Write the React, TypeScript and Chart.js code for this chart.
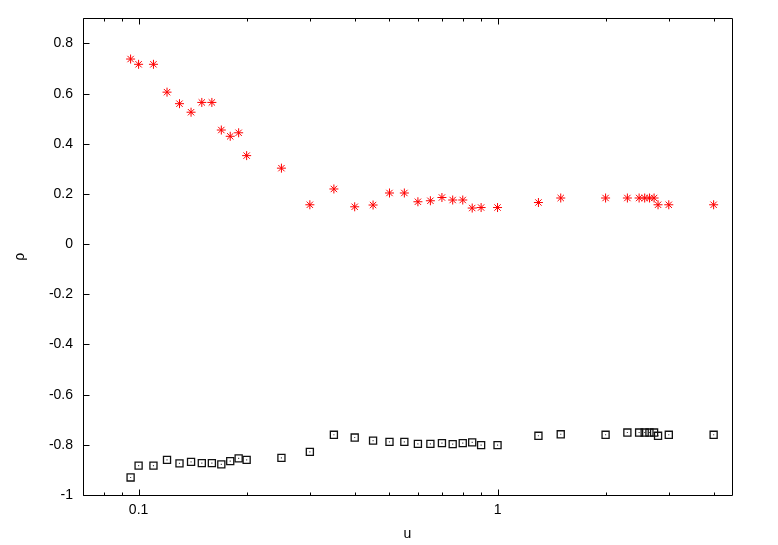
import React, { useEffect, useRef } from "react";
import { Chart, registerables } from "chart.js";

Chart.register(...registerables);

// ---- data ----
const uValues = [
  0.095, 0.1, 0.11, 0.12, 0.13, 0.14, 0.15, 0.16, 0.17, 0.18, 0.19, 0.2,
  0.25, 0.3, 0.35, 0.4, 0.45, 0.5, 0.55, 0.6, 0.65, 0.7, 0.75, 0.8, 0.85, 0.9, 1.0,
  1.3, 1.5, 2.0, 2.3,
  2.48, 2.57, 2.65, 2.73,
  2.8, 3.0, 4.0,
];

const rhoRed = [
  0.738, 0.717, 0.717, 0.606, 0.56, 0.526, 0.565, 0.565, 0.455, 0.43, 0.444, 0.353,
  0.303, 0.157, 0.22, 0.149, 0.156, 0.204, 0.204, 0.169, 0.173, 0.186, 0.176, 0.176, 0.144, 0.146, 0.146,
  0.166, 0.184, 0.184, 0.184,
  0.184, 0.184, 0.184, 0.184,
  0.157, 0.157, 0.157,
];

const rhoBlack = [
  -0.93, -0.883, -0.883, -0.86, -0.874, -0.868, -0.873, -0.873, -0.878, -0.865, -0.854, -0.86,
  -0.852, -0.828, -0.76, -0.771, -0.783, -0.788, -0.788, -0.796, -0.796, -0.793, -0.797, -0.793, -0.79, -0.801, -0.801,
  -0.764, -0.758, -0.76, -0.751,
  -0.751, -0.751, -0.751, -0.751,
  -0.764, -0.76, -0.76,
];

const xTickValues = [0.07, 0.08, 0.09, 0.1, 0.2, 0.3, 0.4, 0.5, 0.6, 0.7, 0.8, 0.9, 1, 2, 3, 4];
const xLabelValues = [0.1, 1];

const FONT = "'Liberation Sans', Arial, Helvetica, sans-serif";

const isLabelTick = (v: number) => xLabelValues.some((l) => Math.abs(l - v) < 1e-9);

const fmtY = (v: number) => {
  const r = Math.round(v * 10) / 10;
  return String(r === 0 ? 0 : r);
};

const gnuplotFrame = {
  id: "gnuplotFrame",
  afterDatasetsDraw(chart: any) {
    const { ctx, chartArea: a, scales } = chart;
    ctx.save();
    ctx.strokeStyle = "#000";
    ctx.lineWidth = 1;
    const L = Math.round(a.left) + 0.5;
    const R = Math.round(a.right) + 0.5;
    const T = Math.round(a.top) + 0.5;
    const B = Math.round(a.bottom) + 0.5;
    ctx.beginPath();
    ctx.rect(L, T, R - L, B - T);
    scales.x.ticks.forEach((t: any) => {
      const px = Math.round(scales.x.getPixelForValue(t.value)) + 0.5;
      const len = isLabelTick(t.value) ? 6 : 3;
      ctx.moveTo(px, B);
      ctx.lineTo(px, B - len);
      ctx.moveTo(px, T);
      ctx.lineTo(px, T + len);
    });
    scales.y.ticks.forEach((t: any) => {
      const py = Math.round(scales.y.getPixelForValue(t.value)) + 0.5;
      ctx.moveTo(L, py);
      ctx.lineTo(L + 6, py);
    });
    ctx.stroke();
    ctx.restore();
  },
};

export default function App() {
  const ref = useRef<HTMLCanvasElement | null>(null);

  useEffect(() => {
    if (!ref.current) return;
    const redPts = uValues.map((u, i) => ({ x: u, y: rhoRed[i] }));
    const blackPts = uValues.map((u, i) => ({ x: u, y: rhoBlack[i] }));

    const chart = new Chart(ref.current, {
      type: "scatter",
      data: {
        datasets: [
          {
            data: redPts,
            pointStyle: "star",
            pointRadius: 4.5,
            pointHoverRadius: 4.5,
            borderColor: "#ff0000",
            backgroundColor: "#ff0000",
            borderWidth: 1,
          },
          {
            data: blackPts,
            pointStyle: "rect",
            pointRadius: 5,
            pointHoverRadius: 5,
            borderColor: "#111",
            backgroundColor: "rgba(0,0,0,0)",
            borderWidth: 1.3,
          },
          {
            data: blackPts,
            pointStyle: "rect",
            pointRadius: 0.8,
            pointHoverRadius: 0.8,
            borderWidth: 0,
            backgroundColor: "#444",
            borderColor: "#444",
          },
        ],
      },
      options: {
        responsive: false,
        animation: false,
        events: [],
        layout: { padding: { top: 18, right: 46, left: 0, bottom: 0 } },
        plugins: {
          legend: { display: false },
          tooltip: { enabled: false },
        },
        scales: {
          x: {
            type: "logarithmic",
            min: 0.07,
            max: 4.5,
            grid: { display: false, drawTicks: false },
            border: { display: false },
            afterBuildTicks: (s: any) => {
              s.ticks = xTickValues.map((v) => ({ value: v }));
            },
            afterFit: (s: any) => {
              s.height = 50;
            },
            ticks: {
              autoSkip: false,
              maxRotation: 0,
              minRotation: 0,
              padding: 7,
              color: "#000",
              font: { family: FONT, size: 14 },
              callback: (v: any) => {
                const n = Number(v);
                if (Math.abs(n - 0.1) < 1e-9) return "0.1";
                if (Math.abs(n - 1) < 1e-9) return "1";
                return "";
              },
            },
            title: {
              display: true,
              text: "u",
              color: "#000",
              font: { family: FONT, size: 14 },
              padding: { top: 0, bottom: 2 },
            },
          },
          y: {
            type: "linear",
            min: -1,
            max: 0.9,
            grid: { display: false, drawTicks: false },
            border: { display: false },
            afterFit: (s: any) => {
              s.width = 83;
            },
            ticks: {
              stepSize: 0.2,
              includeBounds: false,
              padding: 10,
              color: "#000",
              font: { family: FONT, size: 14 },
              callback: (v: any) => fmtY(Number(v)),
            },
            title: {
              display: true,
              text: "ρ",
              color: "#000",
              font: { family: FONT, size: 14 },
              padding: { top: 12, bottom: 0 },
            },
          },
        },
      } as any,
      plugins: [gnuplotFrame],
    });
    return () => chart.destroy();
  }, []);

  return (
    <div style={{ position: "fixed", left: 0, top: 0, width: 778, height: 545, background: "#fff" }}>
      <canvas ref={ref} width={778} height={545} style={{ width: 778, height: 545 }} />
    </div>
  );
}
